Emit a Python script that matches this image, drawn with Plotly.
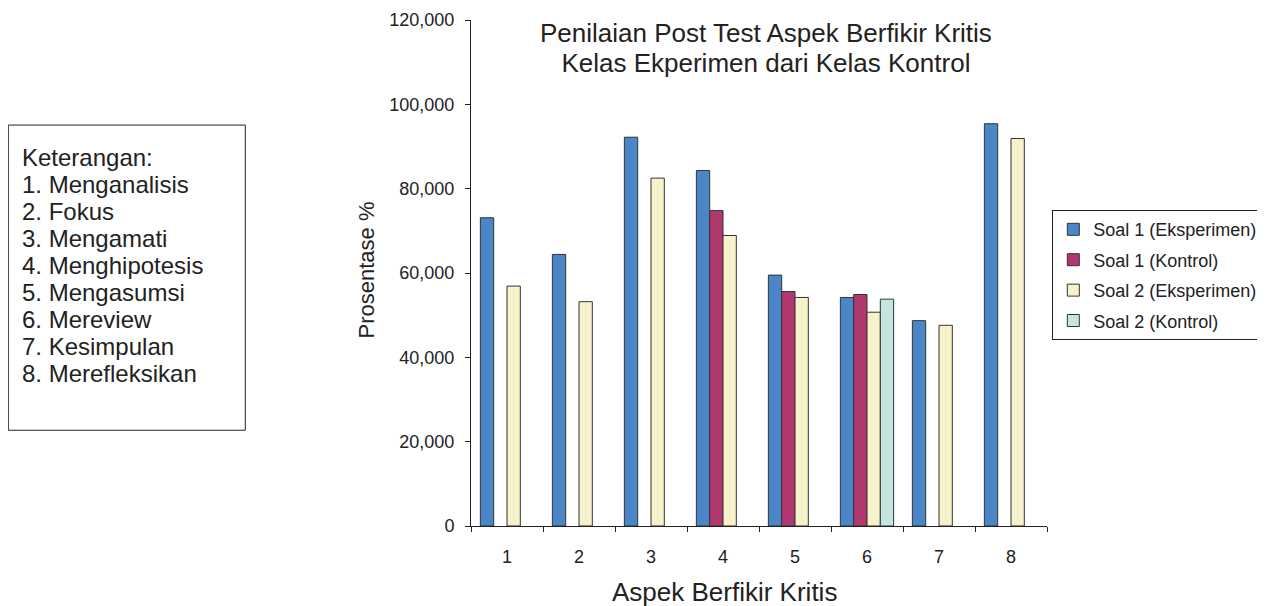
import plotly.graph_objects as go

categories = ["1", "2", "3", "4", "5", "6", "7", "8"]
soal1_eksperimen = [73.1, 64.4, 92.2, 84.3, 59.5, 54.2, 48.7, 95.4]
soal1_kontrol = [None, None, None, 74.8, 55.6, 54.9, None, None]
soal2_eksperimen = [56.9, 53.2, 82.5, 68.9, 54.2, 50.7, 47.6, 91.9]
soal2_kontrol = [None, None, None, None, None, 53.8, None, None]
series_names = ["Soal 1 (Eksperimen)", "Soal 1 (Kontrol)", "Soal 2 (Eksperimen)", "Soal 2 (Kontrol)"]
series_colors = ["#4A86C8", "#B2386F", "#F8F2CC", "#C5E5E3"]
y_tickvals = [0, 20, 40, 60, 80, 100, 120]
y_ticktext = ["0", "20,000", "40,000", "60,000", "80,000", "100,000", "120,000"]
title_lines = ["Penilaian Post Test Aspek Berfikir Kritis", "Kelas Ekperimen dari Kelas Kontrol"]
keterangan = ["Keterangan:", "1. Menganalisis", "2. Fokus", "3. Mengamati", "4. Menghipotesis",
              "5. Mengasumsi", "6. Mereview", "7. Kesimpulan", "8. Merefleksikan"]

# page body margin offsets the figure by 8px
OFF = 8
W, H = 1265 - OFF, 606 - OFF
PL, PR, PT, PB = 470.7 - OFF, 1046.7 - OFF, 20.0 - OFF, 525.7 - OFF
FONT = "Liberation Sans, Arial, sans-serif"
TXT = "#222222"


def px(x):
    return (x - OFF - PL) / (PR - PL)


def py(y):
    return (PB - (y - OFF)) / (PB - PT)


def block(lines, glyph_size):
    return "<br>".join("<span style='font-size:%dpx'>%s</span>" % (glyph_size, l) for l in lines)


fig = go.Figure()
all_series = [soal1_eksperimen, soal1_kontrol, soal2_eksperimen, soal2_kontrol]
for i, (name, vals, col) in enumerate(zip(series_names, all_series, series_colors)):
    fig.add_trace(go.Bar(
        x=categories, y=vals, name=name, legendgroup=str(i),
        marker=dict(color=col, line=dict(color="#333333", width=1)),
    ))

annotations = [
    dict(
        text=block(keterangan, 24), x=px(20), y=py(265), xref="paper", yref="paper",
        xanchor="left", yanchor="middle", showarrow=False, align="left",
        font=dict(family=FONT, size=27.0 / 1.3, color=TXT),
    ),
    dict(
        text=block(title_lines, 26), x=px(766), y=py(47.75), xref="paper", yref="paper",
        xanchor="center", yanchor="middle", showarrow=False, align="center",
        font=dict(family=FONT, size=29.5 / 1.3, color=TXT),
    ),
    dict(
        text="Prosentase %", x=px(366), y=py(270), xref="paper", yref="paper",
        xanchor="center", yanchor="middle", showarrow=False, textangle=-90,
        font=dict(family=FONT, size=22, color=TXT),
    ),
    dict(
        text="Aspek Berfikir Kritis", x=px(724), y=py(592), xref="paper", yref="paper",
        xanchor="center", yanchor="middle", showarrow=False,
        font=dict(family=FONT, size=26, color=TXT),
    ),
]

fig.update_layout(
    width=W, height=H,
    margin=dict(l=PL, r=W - PR, t=PT, b=H - PB, autoexpand=False),
    paper_bgcolor="white", plot_bgcolor="white",
    barmode="group", bargap=0.26, bargroupgap=0,
    font=dict(family=FONT, size=18, color=TXT),
    showlegend=True,
    legend=dict(
        x=px(1052), y=py(210), xanchor="left", yanchor="top",
        bordercolor="#222222", borderwidth=1, bgcolor="white",
        font=dict(family=FONT, size=18, color=TXT),
        traceorder="grouped", tracegroupgap=4,
    ),
    xaxis=dict(
        type="category", showline=True, linecolor="#222222", linewidth=1,
        ticks="outside", ticklen=5, tickcolor="#222222", tickson="boundaries",
        showgrid=False, zeroline=False, ticklabelstandoff=14,
        tickfont=dict(family=FONT, size=18, color=TXT),
    ),
    yaxis=dict(
        range=[0, 120], tickvals=y_tickvals, ticktext=y_ticktext,
        showline=True, linecolor="#222222", linewidth=1,
        ticks="outside", ticklen=5, tickcolor="#222222",
        showgrid=False, zeroline=False, ticklabelstandoff=7,
        tickfont=dict(family=FONT, size=18, color=TXT),
    ),
    shapes=[dict(
        type="rect", xref="paper", yref="paper",
        x0=px(8), x1=px(245), y0=py(430), y1=py(125),
        line=dict(color="#222222", width=1), fillcolor="rgba(0,0,0,0)",
    )],
    annotations=annotations,
)

fig.write_html("out.html")
